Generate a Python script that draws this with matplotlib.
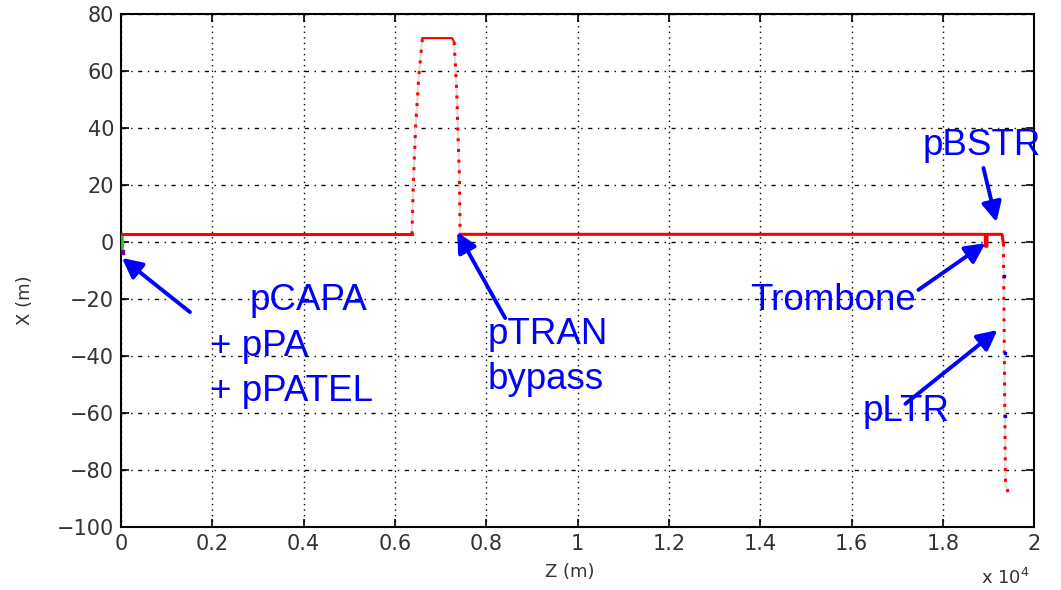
import matplotlib.pyplot as plt

# ---------------------------------------------------------------------------
# Data (Z in m, X in m)
# ---------------------------------------------------------------------------
start_z = [30, 30]
start_x = [-2.0, 2.7]
flat1_z = [30, 6370]
flat1_x = [2.7, 2.7]
bump_up_z = [6370, 6400, 6450, 6520, 6600]
bump_up_x = [2.7, 20, 40, 58, 71.6]
top_z = [6600, 7250, 7295]
top_x = [71.6, 71.6, 70.2]
bump_down_z = [7295, 7350, 7380, 7410, 7425]
bump_down_x = [70.2, 53.3, 37.5, 22.5, 2.7]
flat2_z = [7425, 18926, 18926, 18960, 18960, 19290, 19320]
flat2_x = [2.7, 2.7, -1.5, -1.5, 2.7, 2.7, -0.5]
ltr_z = [19320, 19340, 19365, 19380, 19430]
ltr_x = [-0.5, -40, -85, -86, -88]
blue_z = [19330, 19345, 19355]
blue_x = [-12, -39, -61]

x_ticks = [0, 2000, 4000, 6000, 8000, 10000, 12000, 14000, 16000, 18000, 20000]
x_tick_labels = ["0", "0.2", "0.4", "0.6", "0.8", "1", "1.2", "1.4", "1.6", "1.8", "2"]
y_ticks = [-100, -80, -60, -40, -20, 0, 20, 40, 60, 80]

# annotations: (text, z, x)
labels = [
    ("pCAPA", 2826, -20.4),
    ("+ pPA", 1950, -36.8),
    ("+ pPATEL", 1950, -52.6),
    ("pTRAN", 8017, -32.6),
    ("bypass", 8017, -48.4),
    ("Trombone", 13779, -20.4),
    ("pLTR", 16232, -59.6),
    ("pBSTR", 17547, 34.0),
]
# arrows: (tail z, tail x, head z, head x)
arrows = [
    (1511, -24.6, 22, -5.6),
    (8412, -26.7, 7360, 3.5),
    (17459, -16.8, 18927, -0.4),
    (18883, 26.0, 19168, 7.0),
    (17174, -56.8, 19190, -30.9),
]

RED = "#FF0000"
BLUE = "#0000FF"
GREY = "#333333"

fig = plt.figure(figsize=(10.61, 5.90), dpi=100)
ax = fig.add_axes([0.114, 0.107, 0.861, 0.869])

# beam line
ax.plot(start_z, start_x, color="#22CC22", lw=2, zorder=3)
ax.plot([30], [-3.5], marker="s", ms=3, color="#800080", zorder=3)
for z, x in [(bump_up_z, bump_up_x), (bump_down_z, bump_down_x), (ltr_z, ltr_x)]:
    ax.plot(z, x, color="#DDDDDD", lw=1.5, zorder=2)
    ax.plot(z, x, color=RED, lw=2.2, ls=(0, (1, 2.5)), zorder=3)
ax.plot(flat1_z, flat1_x, color=RED, lw=2.2, zorder=3)
ax.plot(top_z, top_x, color=RED, lw=1.5, zorder=3)
ax.plot(flat2_z, flat2_x, color=RED, lw=2.2, zorder=3)
ax.plot(blue_z, blue_x, ls="none", marker="s", ms=2, color=BLUE, zorder=4)

# annotations
for text, z, x in labels:
    ax.text(z, x, text, color=BLUE, fontsize=26.5, family="Liberation Sans",
            va="center", ha="left", zorder=6)
for tz, tx, hz, hx in arrows:
    ax.annotate("", xy=(hz, hx), xytext=(tz, tx),
                arrowprops=dict(arrowstyle="-|>", color=BLUE, lw=2.8,
                                mutation_scale=30, shrinkA=0, shrinkB=0),
                zorder=6)

ax.set_xlim(0, 20000)
ax.set_ylim(-100, 80)
ax.set_xticks(x_ticks)
ax.set_xticklabels(x_tick_labels)
ax.set_yticks(y_ticks)
ax.tick_params(direction="in", length=6, width=1.2, labelsize=15,
               top=True, right=True, pad=5, labelcolor=GREY)
for spine in ax.spines.values():
    spine.set_linewidth(1.5)

ax.xaxis.grid(True, color="black", lw=1.0, ls=(0, (1, 3)))
ax.yaxis.grid(True, color="black", lw=1.0, ls=(0, (3, 4, 1, 4)))
ax.set_axisbelow(True)

fig.text(570 / 1061, 1 - 572 / 590, "Z (m)", fontsize=13, color=GREY,
         ha="center", va="center")
fig.text(25 / 1061, 1 - 300 / 590, "X (m)", fontsize=13, color=GREY,
         ha="center", va="center", rotation=90)
fig.text(1005 / 1061, 1 - 578 / 590, r"x 10$^4$", fontsize=13, color=GREY,
         ha="center", va="center")

fig.savefig("out.png", dpi=100)
